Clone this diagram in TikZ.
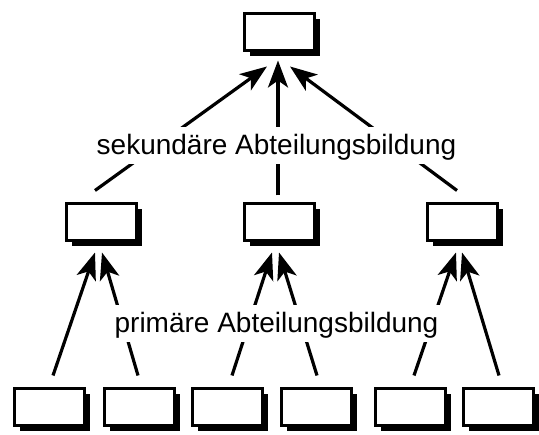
\documentclass[tikz,border=0pt]{standalone}
\usepackage{fontspec}
\setmainfont{Liberation Sans}
\usetikzlibrary{arrows.meta,shadows}
\begin{document}
\begin{tikzpicture}[x=1pt,y=1pt,
  unit/.style={draw=black, line width=3pt, fill=white, minimum width=70pt,
    minimum height=37pt, inner sep=0pt,
    drop shadow={shadow xshift=5.5pt, shadow yshift=-5.5pt, fill=black, opacity=1}},
  arr/.style={line width=3.2pt, -{Stealth[length=27pt, width=20pt, inset=7pt]}},
  tag/.style={fill=white, font=\fontsize{28}{31}\selectfont, inner xsep=5pt,
    inner ysep=0pt, text height=27.5pt, text depth=9.5pt, anchor=base}]
\useasboundingbox (0,0) rectangle (539,435);

% organisational units
\node[unit] (top) at (279,403) {};
\node[unit] (m1) at (101,212.5) {};
\node[unit] (m2) at (279,212.5) {};
\node[unit] (m3) at (462,212.5) {};
\node[unit] (b1) at (49,27.5) {};
\node[unit] (b2) at (139,27.5) {};
\node[unit] (b3) at (227.5,27.5) {};
\node[unit] (b4) at (316.5,27.5) {};
\node[unit] (b5) at (410,27.5) {};
\node[unit] (b6) at (498.5,27.5) {};

% secondary grouping
\draw[arr] ([xshift=-6pt,yshift=12pt]m1.north) -- ([xshift=-12pt,yshift=-14.5pt]top.south);
\draw[arr] ([xshift=-1pt,yshift=7pt]m2.north) -- ([xshift=-1pt,yshift=-8.5pt]top.south);
\draw[arr] ([xshift=-5pt,yshift=12pt]m3.north) -- ([xshift=11pt,yshift=-14.5pt]top.south);

% primary grouping
\draw[arr] ([xshift=4pt,yshift=12pt]b1.north) -- ([xshift=-6pt,yshift=-10pt]m1.south);
\draw[arr] ([xshift=-1pt,yshift=12pt]b2.north) -- ([xshift=1pt,yshift=-10pt]m1.south);
\draw[arr] ([xshift=4.5pt,yshift=12pt]b3.north) -- ([xshift=-7pt,yshift=-10pt]m2.south);
\draw[arr] ([xshift=0.5pt,yshift=12pt]b4.north) -- ([xshift=0pt,yshift=-10pt]m2.south);
\draw[arr] ([xshift=4pt,yshift=12pt]b5.north) -- ([xshift=-6pt,yshift=-10pt]m3.south);
\draw[arr] ([xshift=0.5pt,yshift=12pt]b6.north) -- ([xshift=0pt,yshift=-10pt]m3.south);

% labels laid over the connectors
\node[tag] (sek) at (276.5,280) {sekundäre Abteilungsbildung};
\node[tag] (prim) at (276.5,102) {primäre Abteilungsbildung};
\end{tikzpicture}
\end{document}
